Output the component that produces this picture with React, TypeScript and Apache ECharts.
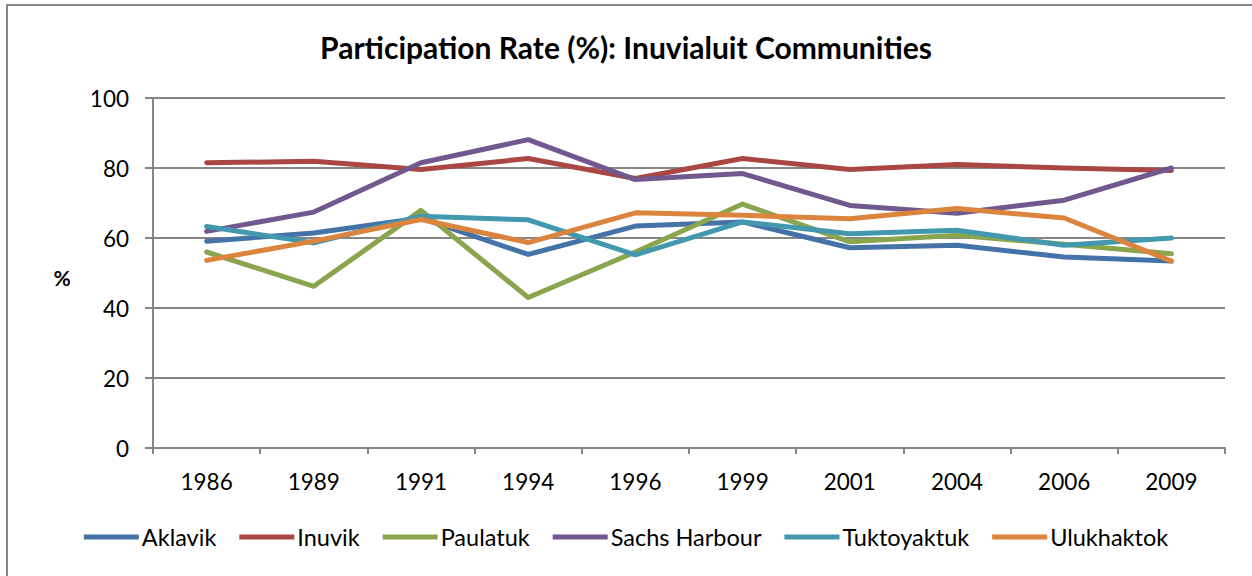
import React, { useEffect, useRef } from "react";
import * as echarts from "echarts";

const years = ["1986", "1989", "1991", "1994", "1996", "1999", "2001", "2004", "2006", "2009"];
const aklavik = [59.1, 61.4, 65.7, 55.3, 63.4, 64.6, 57.2, 57.9, 54.6, 53.4];
const inuvik = [81.5, 81.9, 79.6, 82.7, 77.0, 82.7, 79.6, 81.0, 80.0, 79.3];
const paulatuk = [56.0, 46.2, 67.9, 43.0, 56.0, 69.7, 58.9, 60.8, 58.2, 55.5];
const sachsHarbour = [61.9, 67.4, 81.5, 88.1, 76.7, 78.4, 69.3, 67.1, 70.8, 80.0];
const tuktoyaktuk = [63.3, 58.6, 66.2, 65.2, 55.2, 64.6, 61.2, 62.2, 57.9, 60.0];
const ulukhaktok = [53.6, 59.1, 65.3, 58.7, 67.2, 66.5, 65.5, 68.4, 65.7, 53.4];

const seriesNames = ["Aklavik", "Inuvik", "Paulatuk", "Sachs Harbour", "Tuktoyaktuk", "Ulukhaktok"];
const seriesData = [aklavik, inuvik, paulatuk, sachsHarbour, tuktoyaktuk, ulukhaktok];
const colors = ["#4572A7", "#AA4643", "#89A54E", "#71588F", "#4198AF", "#DB843D"];

const FONT = "Lato, 'Open Sans', sans-serif";

export default function App() {
  const ref = useRef<HTMLDivElement>(null);
  useEffect(() => {
    if (!ref.current) return;
    const chart = echarts.init(ref.current, undefined, { renderer: "svg" });
    chart.setOption({
      animation: false,
      backgroundColor: "#ffffff",
      color: colors,
      title: {
        text: "Participation Rate (%): Inuvialuit Communities",
        left: "center",
        top: 27,
        textStyle: { fontFamily: FONT, fontSize: 30, fontWeight: "bold", color: "#000" },
      },
      graphic: [
        {
          type: "rect",
          shape: { x: 7, y: 5, width: 1400, height: 700 },
          style: { fill: "none", stroke: "#868686", lineWidth: 2 },
          silent: true,
        },
        {
          type: "text",
          x: 62,
          y: 277,
          style: {
            text: "%",
            font: `bold 21px ${FONT}`,
            fill: "#000",
            textAlign: "center",
            textVerticalAlign: "middle",
          },
        },
      ],
      legend: {
        data: seriesNames,
        left: "center",
        top: 520,
        icon: "rect",
        itemWidth: 55,
        itemHeight: 5,
        itemGap: 23,
        textStyle: { fontFamily: FONT, fontSize: 23.5, color: "#000", padding: [0, 0, 0, -2] },
      },
      grid: { left: 153, right: 27, top: 98, bottom: 128 },
      xAxis: {
        type: "category",
        data: years,
        boundaryGap: true,
        axisLine: { lineStyle: { color: "#868686", width: 2 } },
        axisTick: { show: true, length: 6, alignWithLabel: false, lineStyle: { color: "#868686", width: 2 } },
        axisLabel: { fontFamily: FONT, fontSize: 22.5, color: "#000", margin: 22 },
      },
      yAxis: {
        type: "value",
        min: 0,
        max: 100,
        interval: 20,
        axisLine: { show: true, lineStyle: { color: "#868686", width: 2 } },
        axisTick: { show: true, length: 8, lineStyle: { color: "#868686", width: 2 } },
        axisLabel: { fontFamily: FONT, fontSize: 22.5, color: "#000", margin: 24 },
        splitLine: { show: true, lineStyle: { color: "#868686", width: 2 } },
      },
      series: seriesNames.map((name, i) => ({
        name,
        type: "line",
        data: seriesData[i],
        showSymbol: false,
        symbol: "none",
        lineStyle: { width: 5, color: colors[i], cap: "round", join: "round" },
        itemStyle: { color: colors[i] },
      })),
    });
    return () => chart.dispose();
  }, []);
  return (
    <div
      ref={ref}
      style={{ position: "fixed", left: 0, top: 0, width: 1252, height: 576 }}
    />
  );
}
